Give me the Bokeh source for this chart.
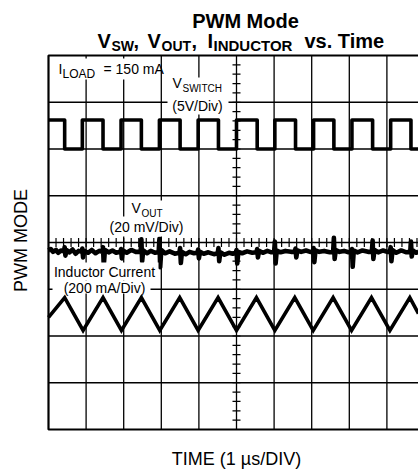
import numpy as np
from bokeh.plotting import figure
from bokeh.models import Range1d, Label, BoxAnnotation
from bokeh.embed import file_html
from bokeh.resources import INLINE

# ---------------- data (in scope divisions) ----------------
x_grid = [1, 2, 3, 4, 5, 6, 7, 8, 9]
y_grid = [1, 2, 3, 4, 5, 6, 7]

# V_SWITCH square wave: edge times and levels
sw_fall = [0.43, 1.45, 2.47, 3.50, 4.52, 5.55, 6.57, 7.59, 8.62, 9.64]
sw_rise = [0.90, 1.93, 2.95, 3.98, 5.00, 6.02, 7.05, 8.07, 9.10]
sw_high = 6.62
sw_low = 6.00

# Inductor current triangle wave: vertices
tri_t = [0.00, 0.43, 0.92, 1.45, 1.94, 2.47, 2.96, 3.49, 3.98, 4.51, 5.00,
         5.53, 6.02, 6.55, 7.04, 7.57, 8.06, 8.59, 9.08, 9.61, 9.84]
tri_v = [2.40, 2.82, 2.12, 2.82, 2.12, 2.82, 2.12, 2.82, 2.12, 2.82, 2.12,
         2.82, 2.12, 2.82, 2.12, 2.82, 2.12, 2.82, 2.12, 2.82, 2.48]

# V_OUT ripple trace with switching spikes
vout_t = [0.00, 0.06, 0.12, 0.20, 0.26, 0.33, 0.41, 0.43, 0.45, 0.48, 0.56, 0.64, 0.72, 0.80,
          0.88, 0.90, 0.92, 0.95, 1.05, 1.15, 1.25, 1.35,
          1.43, 1.45, 1.47, 1.50, 1.60, 1.70, 1.80,
          1.91, 1.93, 1.95, 1.98, 2.08, 2.20, 2.32,
          2.45, 2.47, 2.49, 2.52, 2.62, 2.72, 2.84,
          2.93, 2.95, 2.97, 3.00, 3.10, 3.22, 3.36,
          3.48, 3.50, 3.52, 3.55, 3.65, 3.75, 3.87,
          3.96, 3.98, 4.00, 4.03, 4.13, 4.25, 4.40,
          4.50, 4.52, 4.54, 4.57, 4.68, 4.80, 4.90,
          4.98, 5.00, 5.02, 5.05, 5.15, 5.28, 5.42,
          5.53, 5.55, 5.57, 5.60, 5.70, 5.82, 5.93,
          6.00, 6.02, 6.04, 6.07, 6.17, 6.30, 6.45,
          6.55, 6.57, 6.59, 6.62, 6.72, 6.85, 6.96,
          7.03, 7.05, 7.07, 7.10, 7.20, 7.33, 7.48,
          7.57, 7.59, 7.61, 7.64, 7.74, 7.86, 7.98,
          8.05, 8.07, 8.09, 8.12, 8.22, 8.35, 8.50,
          8.60, 8.62, 8.64, 8.67, 8.77, 8.90, 9.01,
          9.08, 9.10, 9.12, 9.15, 9.25, 9.38, 9.52,
          9.62, 9.64, 9.66, 9.69, 9.78, 9.84]
vout_v = [3.83, 3.86, 3.80, 3.84, 3.78, 3.83, 3.81, 3.90, 3.72, 3.84, 3.79, 3.85, 3.76, 3.82,
          3.80, 3.87, 3.68, 3.82, 3.78, 3.84, 3.77, 3.82,
          3.80, 3.90, 3.50, 3.84, 3.79, 3.83, 3.78,
          3.80, 3.86, 3.66, 3.83, 3.78, 3.84, 3.80,
          3.80, 4.07, 3.60, 3.83, 3.77, 3.82, 3.78,
          3.80, 4.08, 3.47, 3.84, 3.77, 3.81, 3.76,
          3.78, 3.88, 3.56, 3.80, 3.75, 3.80, 3.77,
          3.78, 3.85, 3.66, 3.80, 3.76, 3.79, 3.75,
          3.77, 3.88, 3.60, 3.79, 3.74, 3.78, 3.76,
          3.78, 3.84, 3.55, 3.80, 3.77, 3.81, 3.78,
          3.79, 3.86, 3.68, 3.82, 3.78, 3.82, 3.79,
          3.80, 4.02, 3.55, 3.83, 3.79, 3.82, 3.80,
          3.80, 3.87, 3.68, 3.83, 3.80, 3.83, 3.80,
          3.80, 3.88, 3.58, 3.83, 3.80, 3.82, 3.79,
          3.80, 4.10, 3.65, 3.84, 3.80, 3.82, 3.79,
          3.80, 3.86, 3.48, 3.83, 3.79, 3.83, 3.80,
          3.80, 4.04, 3.65, 3.84, 3.79, 3.83, 3.80,
          3.80, 3.90, 3.60, 3.84, 3.78, 3.83, 3.79,
          3.80, 4.02, 3.70, 3.83, 3.78, 3.81]
assert len(vout_t) == len(vout_v)

# ---------------- geometry helpers (page px -> divisions) ----------------
PX_X = 37.6
PX_Y = 46.75
X0, Y0 = 48.0, 429.0
W, H = 418, 472


def dx(px):
    return (px - X0) / PX_X


def dy(py):
    return (Y0 - py) / PX_Y


X_END = dx(W)

p = figure(width=W, height=H, output_backend="svg", toolbar_location=None, title=None,
           x_range=Range1d(dx(0), dx(W)), y_range=Range1d(dy(H), dy(0)),
           min_border_left=0, min_border_right=0, min_border_top=0, min_border_bottom=0)
p.xaxis.visible = False
p.yaxis.visible = False
p.xgrid.visible = False
p.ygrid.visible = False
p.outline_line_color = None
p.background_fill_color = "white"
p.border_fill_color = "white"

# grid
p.segment(x0=x_grid, x1=x_grid, y0=[0] * len(x_grid), y1=[8] * len(x_grid),
          line_color="black", line_width=1.3)
p.segment(x0=[0] * len(y_grid), x1=[X_END + 1] * len(y_grid), y0=y_grid, y1=y_grid,
          line_color="black", line_width=1.3)

# minor ticks on the centre lines
ty = np.arange(0.2, 8.0, 0.2)
hx = 4.0 / PX_X
p.segment(x0=5 - hx, x1=5 + hx, y0=ty, y1=ty, line_color="black", line_width=1.2)
tx = np.arange(0.2, 9.9, 0.2)
hy = 4.5 / PX_Y
p.segment(x0=tx, x1=tx, y0=4 - hy, y1=4 + hy, line_color="black", line_width=1.2)

# border (left, top, bottom)
p.line([X_END + 1, 0, 0, X_END + 1], [8, 8, 0, 0], line_color="black", line_width=2.2)

# square wave path from edges
edges = sorted([(t, "F") for t in sw_fall] + [(t, "R") for t in sw_rise])
sx, sy = [0.0], [sw_high]
for t, k in edges:
    if k == "F":
        sx += [t, t]
        sy += [sw_high, sw_low]
    else:
        sx += [t, t]
        sy += [sw_low, sw_high]
sx.append(X_END + 0.2)
sy.append(sy[-1])
p.line(sx, sy, line_color="black", line_width=3.6, line_join="round")

# triangle
p.line(tri_t, tri_v, line_color="black", line_width=3.6, line_join="miter")

# vout
p.line(vout_t, vout_v, line_color="black", line_width=4.6, line_join="round")

# white boxes behind in-plot labels
for (l, r, t, b) in [(55, 158, 58, 79), (167, 228, 77, 114), (126, 166, 200, 217),
                     (106, 187, 216, 236), (51, 158, 262, 280), (52, 150, 280, 293)]:
    p.add_layout(BoxAnnotation(left=dx(l), right=dx(r), top=dy(t), bottom=dy(b),
                               fill_color="white", fill_alpha=1.0, line_color=None,
                               level="annotation"))

FONT = "Liberation Sans"


def lab(text, px, py, size, bold=False, align="left", angle=0.0):
    # py is the vertical centre of the capitals on the page
    p.add_layout(Label(x=dx(px), y=dy(py), text=text, text_font=FONT,
                       text_font_size=f"{size}px",
                       text_font_style="bold" if bold else "normal",
                       text_align=align, text_baseline="middle",
                       angle=angle, text_color="black"))


# title
lab("PWM Mode", 245, 20.5, 20, bold=True, align="center")
lab("V", 97, 40, 20, bold=True)
lab("SW", 111, 45, 14, bold=True)
lab(",", 133, 40, 20, bold=True)
lab("V", 147, 40, 20, bold=True)
lab("OUT", 161, 45, 14, bold=True)
lab(",", 191, 40, 20, bold=True)
lab("I", 207, 40, 20, bold=True)
lab("INDUCTOR", 213, 45, 15, bold=True)
lab("vs. Time", 304, 40, 20, bold=True)

# in-plot labels
lab("I", 58, 68.5, 14)
lab("LOAD", 62, 73, 12)
lab("= 150 mA", 103, 68.5, 14)
lab("V", 172, 82.5, 14)
lab("SWITCH", 182, 87.5, 10)
lab("(5V/Div)", 197, 105, 14, align="center")
lab("V", 131, 207.5, 14)
lab("OUT", 141, 212.5, 10)
lab("(20 mV/Div)", 146, 226, 14, align="center")
lab("Inductor Current", 104, 271, 14, align="center")
lab("(200 mA/Div)", 104, 287, 14, align="center")

# axis titles
lab("PWM MODE", 20, 240, 18, align="center", angle=np.pi / 2)
lab("TIME (1 \u00b5s/DIV)", 236, 458.5, 18, align="center")

open("out.html", "w").write(file_html(p, INLINE))
